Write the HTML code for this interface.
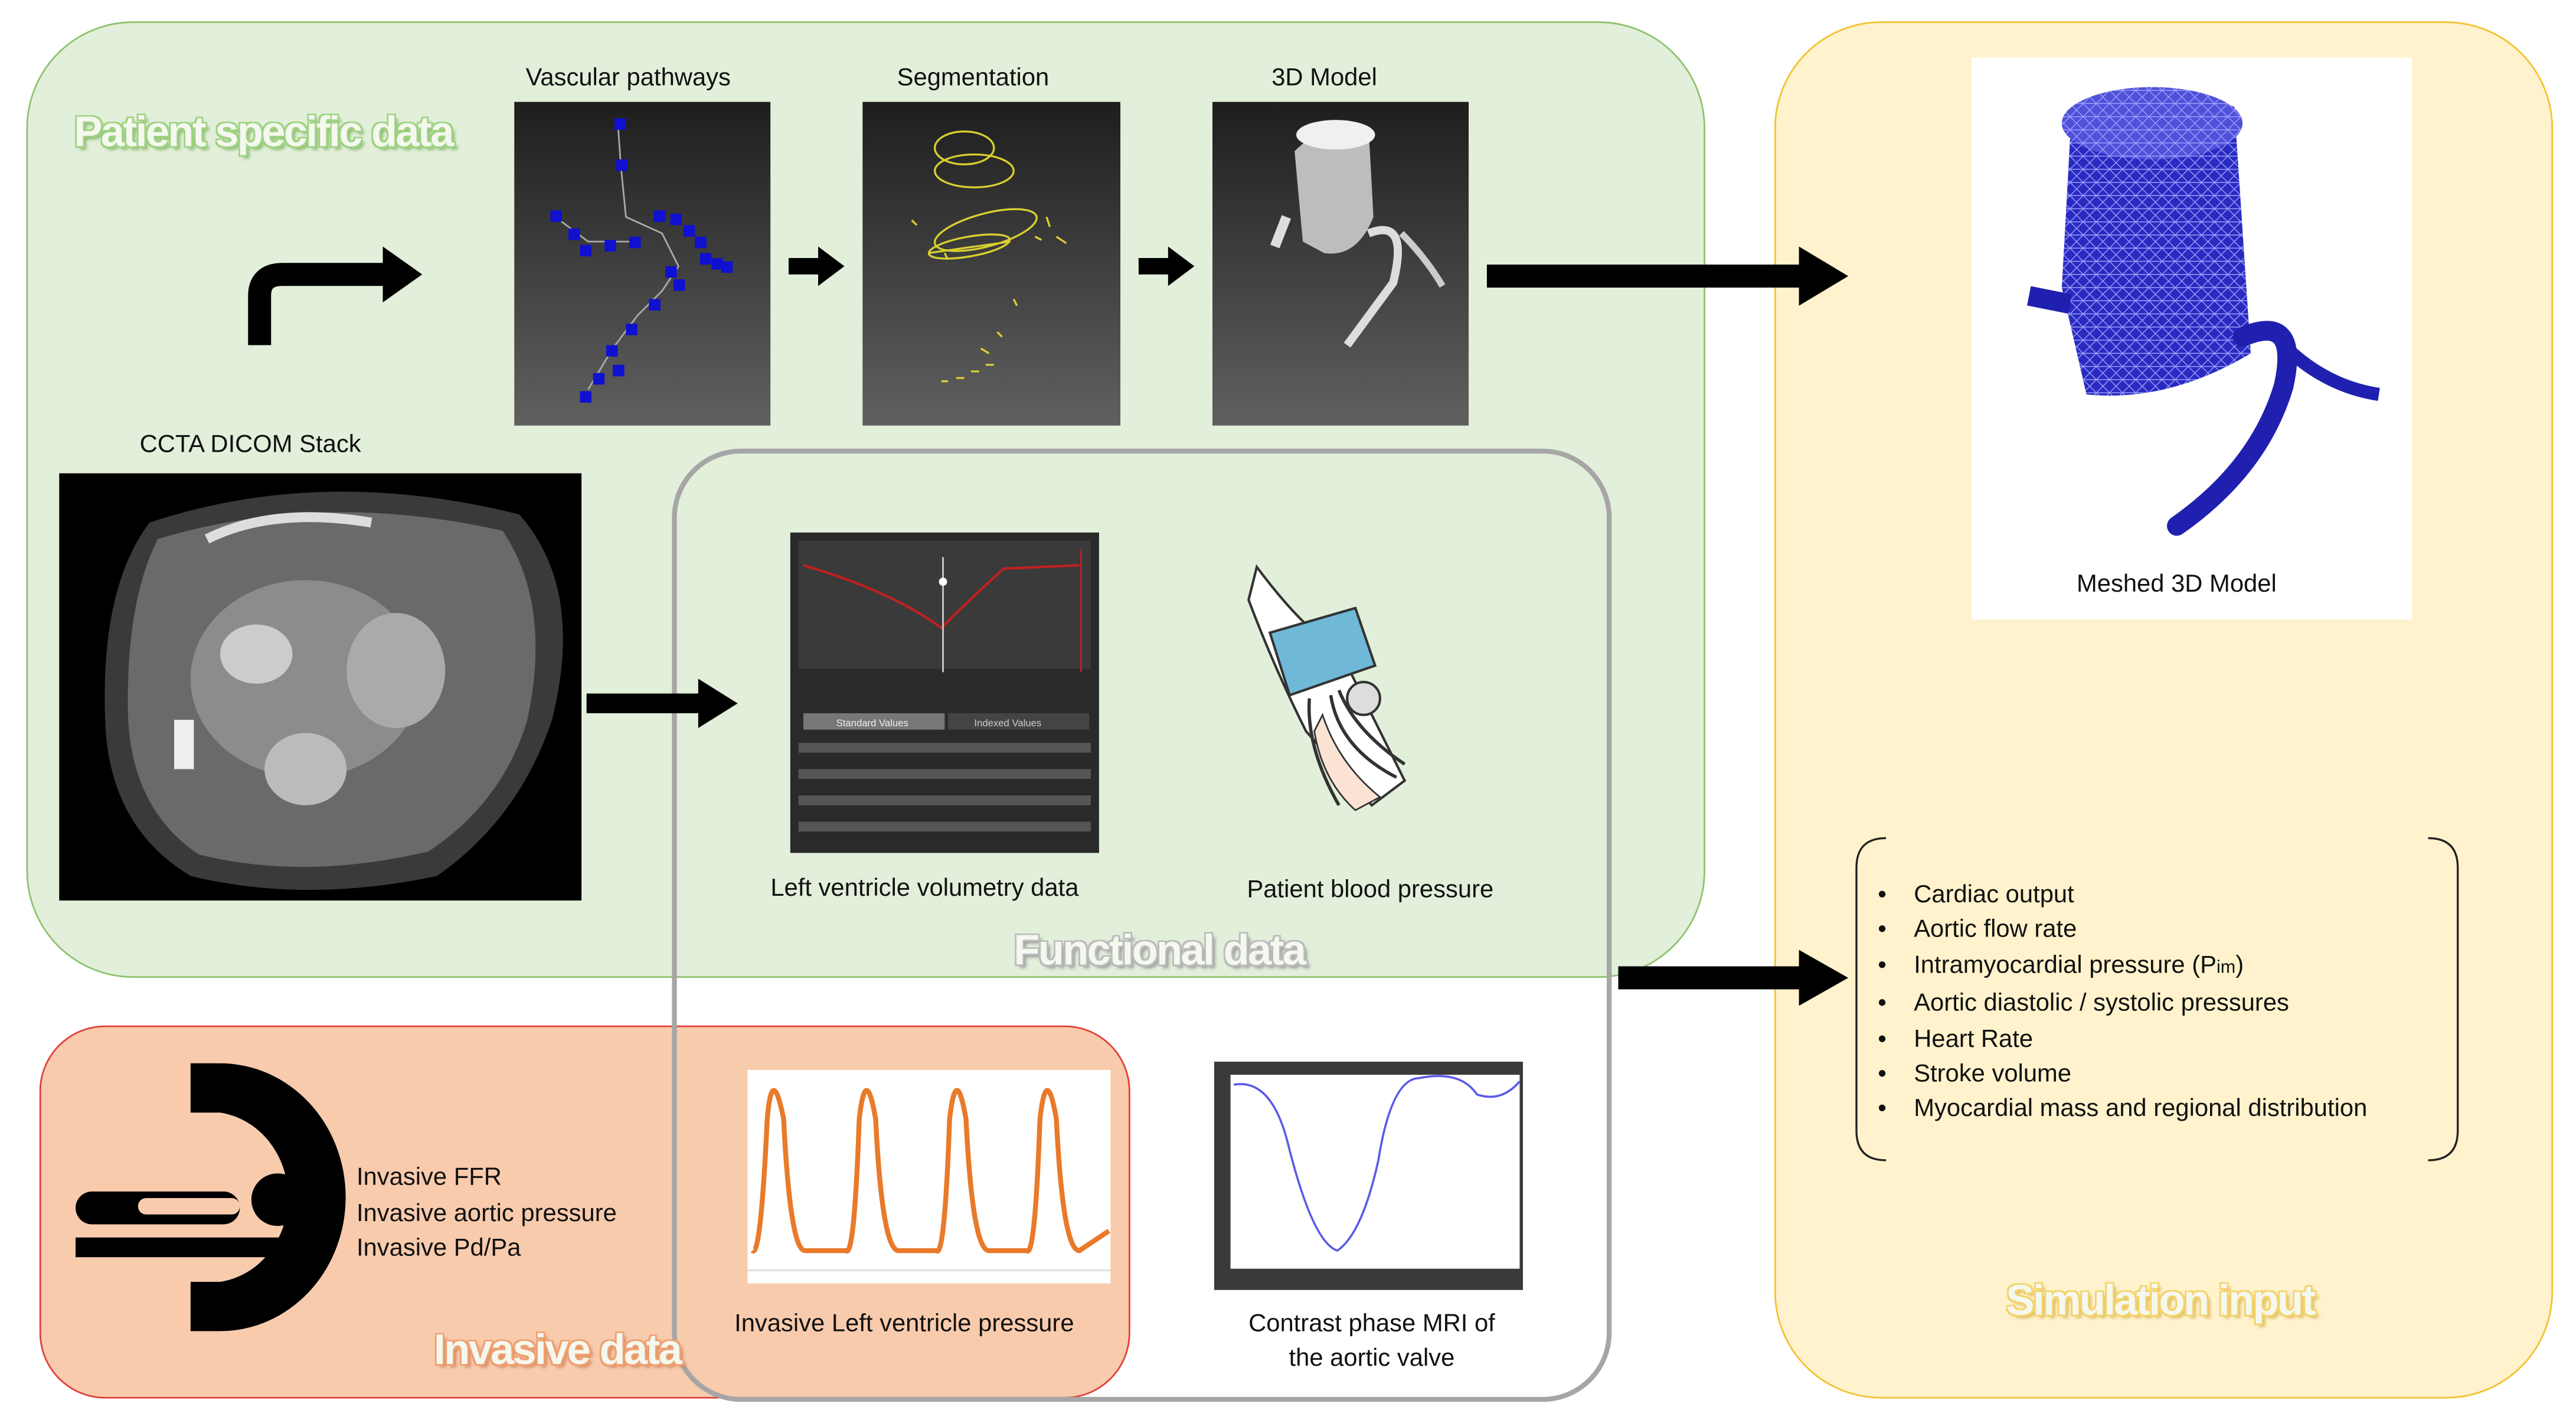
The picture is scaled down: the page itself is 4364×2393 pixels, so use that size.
<!DOCTYPE html>
<html><head><meta charset="utf-8">
<style>
html,body{margin:0;padding:0;background:#fff;overflow:hidden}
#w{width:1568px;height:860px;position:relative;transform:scale(2.7832);transform-origin:0 0;font-family:"Liberation Sans",sans-serif;color:#111}
.a{position:absolute}
.t{position:absolute;font-size:15px;white-space:nowrap}
.ttl{position:absolute;font-weight:bold;font-size:26px;white-space:nowrap;letter-spacing:-1px;color:#f4f8ef}
</style></head><body>
<div id="w">
<div class="a" style="left:16px;top:13px;width:1020px;height:580px;background:#e2efda;border:1.5px solid #8fc36e;border-radius:65px"></div>
<div class="a" style="left:1080px;top:13px;width:472px;height:836px;background:#fff2cc;border:1.5px solid #f2c230;border-radius:65px"></div>
<div class="a" style="left:24px;top:624px;width:662px;height:225px;background:#f8cbad;border:1.5px solid #e0403a;border-radius:40px"></div>
<div class="a" style="left:409px;top:273px;width:566px;height:574px;border:3px solid #a6a6a6;border-radius:42px"></div>

<div class="ttl" style="left:45px;top:65px;text-shadow:-1px -1px 0 #9fd381,1px -1px 0 #9fd381,-1px 1px 0 #9fd381,1px 1px 0 #9fd381,2px 2px 2px #8ab870">Patient specific data</div>
<div class="ttl" style="left:617px;top:563px;text-shadow:-1px -1px 0 #bbb,1px -1px 0 #bbb,-1px 1px 0 #bbb,1px 1px 0 #bbb,2px 2px 2px #999">Functional data</div>
<div class="ttl" style="left:264px;top:806px;text-shadow:-1px -1px 0 #f0a070,1px -1px 0 #f0a070,-1px 1px 0 #f0a070,1px 1px 0 #f0a070,2px 2px 2px #d08860">Invasive data</div>
<div class="ttl" style="left:1221px;top:776px;text-shadow:-1px -1px 0 #f5d36a,1px -1px 0 #f5d36a,-1px 1px 0 #f5d36a,1px 1px 0 #f5d36a,2px 2px 2px #d8b860">Simulation input</div>

<div class="t" style="left:320px;top:39px">Vascular pathways</div>
<div class="t" style="left:546px;top:39px">Segmentation</div>
<div class="t" style="left:774px;top:39px">3D Model</div>
<div class="t" style="left:85px;top:262px">CCTA DICOM Stack</div>

<svg class="a" style="left:313px;top:62px" width="156" height="197">
<defs><linearGradient id="g1" x1="0" y1="0" x2="0" y2="1"><stop offset="0" stop-color="#1e1e1e"/><stop offset="1" stop-color="#606060"/></linearGradient></defs>
<rect width="156" height="197" fill="url(#g1)"/>
<g stroke="#aaa" stroke-width="1" fill="none"><path d="M63 12 L65 40 L68 70 L90 80 L100 100 L90 115 L75 130 L60 150 L45 175"/><path d="M25 70 L45 85 L70 85"/></g>
<g fill="#1010d0"><rect x="61" y="10" width="7" height="7"/><rect x="62" y="35" width="7" height="7"/><rect x="22" y="66" width="7" height="7"/><rect x="33" y="77" width="7" height="7"/><rect x="40" y="87" width="7" height="7"/><rect x="55" y="84" width="7" height="7"/><rect x="70" y="82" width="7" height="7"/><rect x="85" y="66" width="7" height="7"/><rect x="95" y="68" width="7" height="7"/><rect x="103" y="75" width="7" height="7"/><rect x="110" y="82" width="7" height="7"/><rect x="113" y="92" width="7" height="7"/><rect x="120" y="95" width="7" height="7"/><rect x="126" y="97" width="7" height="7"/><rect x="92" y="100" width="7" height="7"/><rect x="97" y="108" width="7" height="7"/><rect x="82" y="120" width="7" height="7"/><rect x="68" y="135" width="7" height="7"/><rect x="56" y="148" width="7" height="7"/><rect x="60" y="160" width="7" height="7"/><rect x="48" y="165" width="7" height="7"/><rect x="40" y="176" width="7" height="7"/></g>
</svg>
<svg class="a" style="left:525px;top:62px" width="157" height="197">
<rect width="157" height="197" fill="url(#g1)"/>
<g stroke="#d8d030" stroke-width="1.2" fill="none"><ellipse cx="62" cy="28" rx="18" ry="10"/><ellipse cx="68" cy="42" rx="24" ry="10"/><ellipse cx="75" cy="78" rx="32" ry="10" transform="rotate(-15 75 78)"/><ellipse cx="65" cy="88" rx="25" ry="6" transform="rotate(-10 65 88)"/><path d="M40 92 L90 85 M30 72l3 3 M50 92l2 4 M112 70l2 6 M105 82l4 2 M118 82l6 4 M92 120l2 4 M82 140l3 3 M72 150l5 3 M48 170h4 M57 168h5 M66 164h5 M75 160h5"/></g>
</svg>
<svg class="a" style="left:738px;top:62px" width="156" height="197">
<rect width="156" height="197" fill="url(#g1)"/>
<path d="M50 30 Q70 10 95 15 L98 70 Q88 95 68 92 L55 85 Z" fill="#bdbdbd"/>
<ellipse cx="75" cy="20" rx="24" ry="9" fill="#f0f0f0"/>
<path d="M45 70 L38 88" stroke="#ddd" stroke-width="6" fill="none"/>
<path d="M95 80 Q120 70 110 110 L82 148" stroke="#ddd" stroke-width="5" fill="none"/>
<path d="M115 80 Q130 95 140 112" stroke="#ccc" stroke-width="4" fill="none"/>
</svg>

<svg class="a" style="left:140px;top:145px" width="125" height="70"><path d="M18 65 V35 Q18 22 32 22 H95" stroke="#000" stroke-width="14" fill="none"/><polygon points="93,5 117,22 93,39" fill="#000"/></svg>
<svg class="a" style="left:480px;top:150px" width="36" height="24"><rect x="0" y="7" width="20" height="10"/><polygon points="18,0 34,12 18,24"/></svg>
<svg class="a" style="left:693px;top:150px" width="36" height="24"><rect x="0" y="7" width="20" height="10"/><polygon points="18,0 34,12 18,24"/></svg>
<svg class="a" style="left:905px;top:150px" width="222" height="36"><rect x="0" y="11" width="195" height="14"/><polygon points="190,0 220,18 190,36"/></svg>
<svg class="a" style="left:357px;top:413px" width="94" height="30"><rect x="0" y="9" width="72" height="12"/><polygon points="68,0 92,15 68,30"/></svg>
<svg class="a" style="left:985px;top:578px" width="142" height="34"><rect x="0" y="10" width="115" height="14"/><polygon points="110,0 140,17 110,34"/></svg>

<svg class="a" style="left:36px;top:288px" width="318" height="260">
<rect width="318" height="260" fill="#000"/>
<path d="M55 30 Q160 -5 280 25 Q320 70 300 150 Q280 210 230 245 Q150 262 80 245 Q30 215 28 150 Q25 70 55 30Z" fill="#3a3a3a"/>
<path d="M60 40 Q160 10 270 35 Q300 80 285 150 Q270 200 225 230 Q150 248 85 232 Q45 205 42 150 Q40 80 60 40Z" fill="#6a6a6a"/>
<ellipse cx="150" cy="125" rx="70" ry="60" fill="#8c8c8c"/><ellipse cx="120" cy="110" rx="22" ry="18" fill="#ccc"/><ellipse cx="150" cy="180" rx="25" ry="22" fill="#bbb"/><ellipse cx="205" cy="120" rx="30" ry="35" fill="#aaa"/>
<path d="M90 40 Q130 20 190 30" stroke="#ddd" stroke-width="6" fill="none"/><rect x="70" y="150" width="12" height="30" fill="#eee"/>
</svg>

<svg class="a" style="left:481px;top:324px" width="188" height="195">
<rect width="188" height="195" fill="#2a2a2a"/><rect x="5" y="5" width="178" height="78" fill="#3a3a3a"/>
<path d="M8 20 Q60 35 92 58 Q110 40 130 22 L176 20" stroke="#c02020" stroke-width="1.5" fill="none"/>
<line x1="93" y1="15" x2="93" y2="85" stroke="#ccc"/><circle cx="93" cy="30" r="2.5" fill="#fff"/>
<line x1="177" y1="10" x2="177" y2="85" stroke="#c02020"/>
<rect x="8" y="110" width="86" height="10" fill="#777"/><rect x="96" y="110" width="86" height="10" fill="#444"/>
<text x="28" y="118" font-size="6" fill="#eee" font-family="Liberation Sans">Standard Values</text><text x="112" y="118" font-size="6" fill="#ccc" font-family="Liberation Sans">Indexed Values</text>
<g fill="#555"><rect x="5" y="128" width="178" height="6"/><rect x="5" y="144" width="178" height="6"/><rect x="5" y="160" width="178" height="6"/><rect x="5" y="176" width="178" height="6"/></g>
</svg>
<div class="t" style="left:469px;top:532px">Left ventricle volumetry data</div>

<svg class="a" style="left:755px;top:325px" width="125" height="170">
<path d="M10 20 Q40 60 60 70 L100 150 L80 165 L40 120 Q20 80 5 40Z" fill="#fff" stroke="#333" stroke-width="1.5"/>
<path d="M18 60 L70 45 L82 80 L30 98Z" fill="#6fb8d8" stroke="#333" stroke-width="1.5"/>
<path d="M60 95 Q70 120 100 140 M55 98 Q60 130 95 148 M42 100 Q40 130 60 165" stroke="#333" stroke-width="2" fill="none"/>
<circle cx="75" cy="100" r="10" fill="#ddd" stroke="#333" stroke-width="1.5"/>
<path d="M50 110 Q60 140 85 160 L70 168 Q50 150 45 120Z" fill="#fbe3d3" stroke="#333"/>
</svg>
<div class="t" style="left:759px;top:533px">Patient blood pressure</div>

<div class="a" style="left:1200px;top:35px;width:268px;height:342px;background:#fff"></div>
<svg class="a" style="left:1200px;top:35px" width="268" height="342">
<defs><pattern id="m" width="8" height="8" patternUnits="userSpaceOnUse"><path d="M0 0L8 8M8 0L0 8M0 4H8" stroke="#9aa0ff" stroke-width="0.5"/></pattern></defs>
<path d="M60 50 Q100 10 160 30 L170 180 Q120 210 70 205 L55 140 Z" fill="#2a2ac0"/>
<path d="M60 50 Q100 10 160 30 L170 180 Q120 210 70 205 L55 140 Z" fill="url(#m)"/>
<ellipse cx="110" cy="40" rx="55" ry="22" fill="#5050d8"/><ellipse cx="110" cy="40" rx="55" ry="22" fill="url(#m)"/>
<path d="M60 150 L35 145" stroke="#2020b0" stroke-width="12" fill="none"/>
<path d="M165 170 Q200 155 190 200 Q175 250 125 285" stroke="#2020b0" stroke-width="12" fill="none" stroke-linecap="round"/>
<path d="M190 175 Q215 200 248 205" stroke="#2020b0" stroke-width="8" fill="none"/>
</svg>
<div class="t" style="left:1264px;top:347px">Meshed 3D Model</div>

<svg class="a" style="left:1128px;top:508px" width="372" height="200"><path d="M20 2 Q2 2 2 20 V180 Q2 198 20 198 M350 2 Q368 2 368 20 V180 Q368 198 350 198" stroke="#222" stroke-width="1.2" fill="none"/></svg>
<div class="a" style="left:1143px;top:534px;font-size:15px;line-height:21.4px">
<div>•&nbsp;&nbsp;&nbsp;&nbsp;Cardiac output</div><div>•&nbsp;&nbsp;&nbsp;&nbsp;Aortic flow rate</div><div>•&nbsp;&nbsp;&nbsp;&nbsp;Intramyocardial pressure (P<span style="font-size:11px">im</span>)</div><div>•&nbsp;&nbsp;&nbsp;&nbsp;Aortic diastolic / systolic pressures</div><div>•&nbsp;&nbsp;&nbsp;&nbsp;Heart Rate</div><div>•&nbsp;&nbsp;&nbsp;&nbsp;Stroke volume</div><div>•&nbsp;&nbsp;&nbsp;&nbsp;Myocardial mass and regional distribution</div>
</div>

<svg class="a" style="left:44px;top:645px" width="170" height="170">
<path d="M72 2 H90 A75 80 0 0 1 90 165 H72 V135 H90 A48 52 0 0 0 90 32 H72Z" fill="#000"/>
<circle cx="125" cy="85" r="16" fill="#000"/>
<rect x="2" y="80" width="100" height="20" rx="10" fill="#000"/>
<rect x="2" y="108" width="140" height="12" fill="#000"/>
<rect x="40" y="84" width="62" height="10" rx="5" fill="#f8cbad"/>
</svg>
<div class="a" style="left:217px;top:706px;font-size:15px;line-height:21.5px">Invasive FFR<br>Invasive aortic pressure<br>Invasive Pd/Pa</div>

<svg class="a" style="left:455px;top:651px" width="221" height="130">
<rect width="221" height="130" fill="#fff"/>
<path d="M3 110 Q8 115 12 30 Q15 -5 22 30 Q26 110 35 110 L60 110 Q65 115 68 30 Q72 -5 78 30 Q82 110 92 110 L115 110 Q120 115 123 30 Q127 -5 133 30 Q137 110 147 110 L170 110 Q175 115 178 30 Q182 -5 188 30 Q192 110 202 110 L220 98" stroke="#e87a2a" stroke-width="3" fill="none"/>
<line x1="0" y1="122" x2="221" y2="122" stroke="#ddd"/>
</svg>
<div class="t" style="left:447px;top:797px">Invasive Left ventricle pressure</div>

<svg class="a" style="left:739px;top:646px" width="188" height="139">
<rect width="188" height="139" fill="#3a3a3a"/><rect x="10" y="8" width="176" height="118" fill="#fff"/>
<path d="M12 14 Q35 10 45 50 Q60 110 75 115 Q90 105 100 60 Q108 10 125 10 Q150 5 160 20 Q175 25 186 12" stroke="#5a5ae8" stroke-width="1.3" fill="none"/>
</svg>
<div class="a" style="left:740px;top:795px;width:190px;text-align:center;font-size:15px;line-height:21px">Contrast phase MRI of<br>the aortic valve</div>
</div>
</body></html>
